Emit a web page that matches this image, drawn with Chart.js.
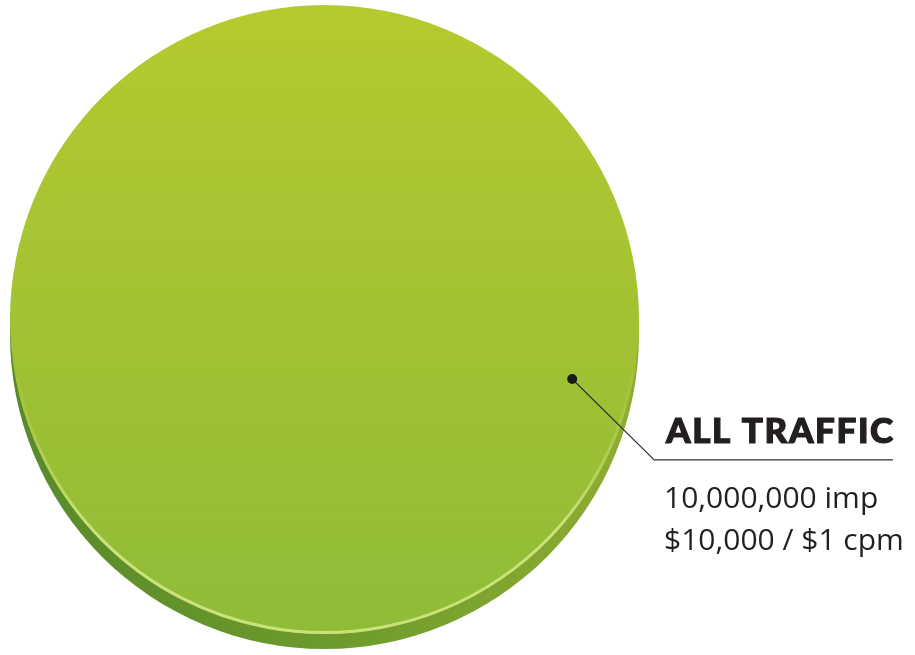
<!DOCTYPE html>
<html>
<head>
<meta charset="utf-8">
<script src="https://cdn.jsdelivr.net/npm/chart.js@4/dist/chart.umd.min.js"></script>
<style>
  html, body { margin: 0; padding: 0; background: #fff; overflow: hidden; }
  #wrap { position: relative; width: 915px; height: 655px; }
</style>
</head>
<body>
<div id="wrap"><canvas id="trafficChart"></canvas></div>
<script>
// chart data
const categories = ['ALL TRAFFIC'];
const impressions = [10000000];
const spend = [10000];
const cpm = [1];

const fmt = (n) => n.toLocaleString('en-US');

// 3d edge under the pie + light rim on the lower edge
const pieEdge = {
  id: 'pieEdge',
  beforeDatasetsDraw(chart) {
    const arc = chart.getDatasetMeta(0).data[0];
    if (!arc) return;
    const { x, y, outerRadius: r } = arc;
    const c = chart.ctx;
    const g = c.createLinearGradient(x - r, 0, x + r, 0);
    g.addColorStop(0, '#58892a');
    g.addColorStop(0.5, '#6c9a2c');
    g.addColorStop(1, '#8fad32');
    c.save();
    c.fillStyle = g;
    c.beginPath();
    c.arc(x, y + 15, r, 0, Math.PI * 2);
    c.fill();
    c.restore();
  },
  afterDatasetsDraw(chart) {
    const arc = chart.getDatasetMeta(0).data[0];
    if (!arc) return;
    const { x, y, outerRadius: r } = arc;
    const c = chart.ctx;
    const g = c.createLinearGradient(x - r, 0, x + r, 0);
    g.addColorStop(0, 'rgba(205,228,125,0)');
    g.addColorStop(0.12, 'rgba(205,228,125,0.95)');
    g.addColorStop(0.88, 'rgba(205,228,125,0.95)');
    g.addColorStop(1, 'rgba(205,228,125,0)');
    c.save();
    c.strokeStyle = g;
    c.lineWidth = 3;
    c.beginPath();
    c.arc(x, y, r - 1.5, Math.PI * 0.06, Math.PI * 0.94);
    c.stroke();
    c.restore();
  }
};

// leader line and label
const calloutLabel = {
  id: 'calloutLabel',
  afterDraw(chart) {
    const arc = chart.getDatasetMeta(0).data[0];
    if (!arc) return;
    const { x, y, outerRadius: r } = arc;
    const c = chart.ctx;
    const ang = 13.5 * Math.PI / 180;
    const dx = x + Math.cos(ang) * r * 0.81;
    const dy = y + Math.sin(ang) * r * 0.81;
    const ex = dx + 82, ey = dy + 81;
    c.save();
    c.strokeStyle = '#333';
    c.lineWidth = 1.2;
    c.beginPath();
    c.moveTo(dx, dy);
    c.lineTo(ex, ey);
    c.lineTo(893, ey);
    c.stroke();
    c.fillStyle = '#1a1a1a';
    c.beginPath();
    c.arc(dx, dy, 5, 0, Math.PI * 2);
    c.fill();

    c.fillStyle = '#231f20';
    c.strokeStyle = '#231f20';
    c.textBaseline = 'alphabetic';
    c.font = '900 35px Lato, "DejaVu Sans", sans-serif';
    c.letterSpacing = '1.6px';
    c.lineWidth = 1.2;
    c.fillText(categories[0], 666, 443);
    c.strokeText(categories[0], 666, 443);
    c.letterSpacing = '0px';
    c.font = '400 30px "Open Sans", sans-serif';
    c.fillText(fmt(impressions[0]) + ' imp', 664, 508);
    c.fillText('$' + fmt(spend[0]) + ' / $' + fmt(cpm[0]) + ' cpm', 664, 550);
    c.restore();
  }
};

const ctx = document.getElementById('trafficChart').getContext('2d');
const trafficChart = new Chart(ctx, {
  type: 'pie',
  data: {
    labels: categories,
    datasets: [{
      data: impressions,
      borderWidth: 0,
      backgroundColor: (context) => {
        const area = context.chart.chartArea;
        if (!area) return '#a3c233';
        const g = context.chart.ctx.createLinearGradient(0, area.top, 0, area.bottom);
        g.addColorStop(0, '#b5ca2e');
        g.addColorStop(0.5, '#a2c233');
        g.addColorStop(1, '#8fbc38');
        return g;
      },
      hoverOffset: 0
    }]
  },
  options: {
    responsive: true,
    maintainAspectRatio: false,
    animation: false,
    layout: { padding: { left: 10, top: 5, right: 276, bottom: 21 } },
    plugins: {
      legend: { display: false },
      tooltip: { enabled: false }
    }
  },
  plugins: [pieEdge, calloutLabel]
});
</script>
</body>
</html>
